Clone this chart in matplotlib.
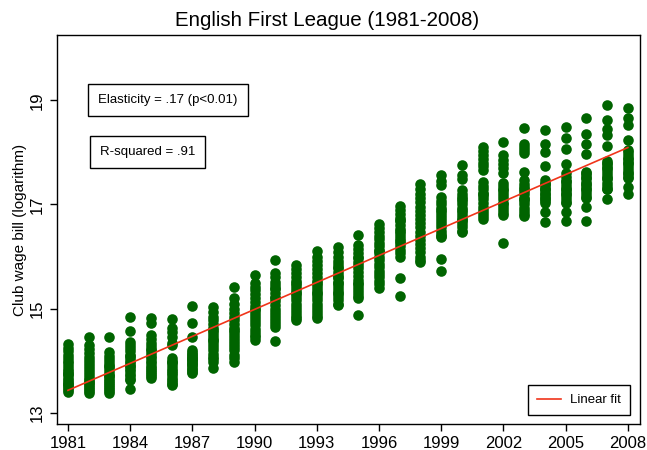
import matplotlib
matplotlib.use("Agg")
import matplotlib.pyplot as plt
import numpy as np

plt.rcParams['font.family'] = ['Liberation Sans', 'DejaVu Sans']

# season of each column
years = list(range(1981, 2009))

# log club wage bill, one list per season
wages = [
    [14.32, 14.25, 14.18, 14.12, 14.05, 14.0, 13.95, 13.9, 13.85, 13.8, 13.76, 13.72, 13.68, 13.64, 13.6, 13.56, 13.52, 13.48, 13.44, 13.4, 13.55, 13.75],
    [14.45, 14.3, 14.22, 14.15, 14.08, 14.02, 13.96, 13.9, 13.84, 13.78, 13.73, 13.68, 13.63, 13.58, 13.54, 13.5, 13.46, 13.42, 13.38, 13.6],
    [14.45, 14.17, 14.1, 14.04, 13.98, 13.92, 13.86, 13.8, 13.75, 13.7, 13.66, 13.62, 13.58, 13.54, 13.5, 13.46, 13.42, 13.38, 13.9, 13.7],
    [14.84, 14.57, 14.36, 14.3, 14.24, 14.18, 14.12, 14.06, 14.0, 13.95, 13.9, 13.85, 13.8, 13.75, 13.7, 13.66, 13.63, 13.46, 14.1, 13.9],
    [14.82, 14.72, 14.5, 14.42, 14.35, 14.28, 14.22, 14.15, 14.1, 14.05, 14.0, 13.95, 13.9, 13.86, 13.82, 13.78, 13.74, 13.7, 13.67, 14.2],
    [14.8, 14.63, 14.55, 14.45, 14.35, 14.3, 14.05, 14.0, 13.95, 13.9, 13.85, 13.8, 13.76, 13.72, 13.68, 13.64, 13.6, 13.56, 13.54, 13.98],
    [15.05, 14.72, 14.46, 14.2, 14.16, 14.12, 14.08, 14.04, 14.0, 13.96, 13.92, 13.88, 13.85, 13.82, 13.79, 13.77, 14.14, 14.06, 13.94, 14.02],
    [15.03, 14.93, 14.85, 14.78, 14.7, 14.63, 14.56, 14.5, 14.44, 14.38, 14.32, 14.26, 14.2, 14.14, 14.08, 14.03, 13.98, 13.86, 14.6, 14.4],
    [15.41, 15.2, 15.1, 15.0, 14.92, 14.85, 14.78, 14.7, 14.63, 14.56, 14.5, 14.44, 14.38, 14.32, 14.26, 14.2, 14.12, 14.05, 13.98, 14.6],
    [15.64, 15.5, 15.42, 15.35, 15.28, 15.2, 15.12, 15.05, 14.98, 14.92, 14.86, 14.8, 14.74, 14.68, 14.62, 14.56, 14.5, 14.45, 14.4, 15.0],
    [15.93, 15.68, 15.6, 15.52, 15.45, 15.38, 15.3, 15.22, 15.15, 15.08, 15.0, 14.94, 14.88, 14.82, 14.76, 14.7, 14.65, 14.38, 15.2, 15.4],
    [15.84, 15.76, 15.68, 15.6, 15.53, 15.46, 15.4, 15.34, 15.28, 15.22, 15.16, 15.1, 15.04, 14.98, 14.92, 14.86, 14.82, 14.78, 15.3, 15.5],
    [16.1, 16.0, 15.92, 15.84, 15.76, 15.68, 15.6, 15.53, 15.46, 15.4, 15.34, 15.28, 15.22, 15.16, 15.1, 15.04, 14.98, 14.92, 14.86, 14.82, 15.5, 15.3],
    [16.18, 16.08, 16.0, 15.92, 15.85, 15.78, 15.7, 15.64, 15.58, 15.52, 15.46, 15.4, 15.34, 15.28, 15.22, 15.16, 15.1, 15.07, 15.6, 15.8, 15.5, 15.3],
    [16.41, 16.22, 16.14, 16.06, 15.98, 15.9, 15.84, 15.78, 15.7, 15.62, 15.55, 15.48, 15.42, 15.36, 15.3, 15.25, 15.2, 14.88, 16.0, 15.5],
    [16.62, 16.55, 16.48, 16.4, 16.33, 16.26, 16.2, 16.13, 16.06, 16.0, 15.93, 15.86, 15.8, 15.73, 15.66, 15.6, 15.53, 15.47, 15.4, 16.1],
    [16.98, 16.9, 16.82, 16.75, 16.68, 16.6, 16.53, 16.46, 16.4, 16.33, 16.27, 16.2, 16.13, 16.06, 15.99, 15.59, 15.24, 16.7, 16.5, 16.3],
    [17.4, 17.3, 17.2, 17.12, 17.04, 16.96, 16.88, 16.8, 16.72, 16.64, 16.56, 16.48, 16.4, 16.32, 16.24, 16.16, 16.08, 16.0, 15.94, 15.89],
    [17.56, 17.45, 17.37, 17.14, 17.07, 17.0, 16.93, 16.86, 16.8, 16.74, 16.68, 16.62, 16.56, 16.5, 16.44, 16.4, 16.37, 15.95, 15.72, 16.9],
    [17.75, 17.56, 17.48, 17.27, 17.14, 17.07, 17.0, 16.93, 16.86, 16.8, 16.74, 16.68, 16.62, 16.56, 16.5, 16.47, 17.2, 16.9, 16.7, 17.1],
    [18.1, 18.02, 17.95, 17.88, 17.8, 17.73, 17.66, 17.43, 17.36, 17.29, 17.22, 17.16, 17.1, 17.03, 16.96, 16.9, 16.84, 16.78, 16.72, 17.2],
    [18.19, 17.94, 17.86, 17.78, 17.7, 17.6, 17.42, 17.35, 17.28, 17.22, 17.16, 17.1, 17.03, 16.96, 16.9, 16.84, 16.79, 16.26, 17.3, 17.0],
    [18.46, 18.17, 18.1, 18.04, 17.98, 17.62, 17.47, 17.4, 17.33, 17.26, 17.2, 17.13, 17.06, 17.0, 16.94, 16.88, 16.82, 16.77, 17.3, 17.1],
    [18.42, 18.17, 18.0, 17.73, 17.47, 17.42, 17.37, 17.32, 17.27, 17.22, 17.17, 17.12, 17.07, 17.02, 16.85, 16.66, 17.3, 17.2, 17.1, 17.4],
    [18.48, 18.27, 18.06, 17.77, 17.6, 17.53, 17.46, 17.4, 17.34, 17.28, 17.22, 17.16, 17.1, 17.05, 17.02, 16.85, 16.68, 17.3, 17.2, 17.45],
    [18.65, 18.36, 18.17, 17.96, 17.63, 17.56, 17.5, 17.44, 17.38, 17.32, 17.26, 17.2, 17.15, 17.12, 16.95, 16.68, 17.4, 17.3, 17.5, 17.6],
    [18.9, 18.63, 18.44, 18.33, 18.13, 17.84, 17.78, 17.72, 17.66, 17.6, 17.54, 17.48, 17.42, 17.36, 17.3, 17.29, 17.1, 17.7, 17.5, 17.8],
    [18.86, 18.65, 18.52, 18.23, 18.0, 17.94, 17.88, 17.82, 17.76, 17.7, 17.64, 17.58, 17.52, 17.5, 17.33, 17.21, 17.9, 17.8, 17.6, 18.05],
]

xticks = list(range(1981, 2009, 3))
yticks = [13, 15, 17, 19]

x = np.concatenate([[yr] * len(w) for yr, w in zip(years, wages)])
y = np.concatenate(wages)

# linear fit
b, a = np.polyfit(x, y, 1)
xfit = np.array([years[0], years[-1]])

fig = plt.figure(figsize=(6.47, 4.5), dpi=100)
ax = fig.add_axes([0.088, 0.058, 0.901, 0.864])

ax.scatter(x, y, s=58, color='#006400', linewidths=0, zorder=2)
ax.plot(xfit, a + b * xfit, color='#f0341a', lw=1.2, zorder=3, label='Linear fit')

ax.set_xlim(1980.47, 2008.58)
ax.set_ylim(12.79, 20.25)
ax.set_xticks(xticks)
ax.set_yticks(yticks)
ax.tick_params(axis='both', direction='out', length=5, width=1, labelsize=12)
for lab in ax.get_yticklabels():
    lab.set_rotation(90)
    lab.set_va('center')
for s in ax.spines.values():
    s.set_linewidth(1)

ax.set_ylabel('Club wage bill (logarithm)', fontsize=11, labelpad=2)
# title is centred on the whole figure, not the plot area
fig.text(0.505, 0.955, 'English First League (1981-2008)', fontsize=14.8,
         ha='center', va='center')

ax.text(0.071, 0.833, 'Elasticity = .17 (p<0.01)', transform=ax.transAxes,
        fontsize=9.5, va='center', ha='left',
        bbox=dict(boxstyle='square,pad=0.75', fc='white', ec='black', lw=1))
ax.text(0.074, 0.70, 'R-squared = .91', transform=ax.transAxes,
        fontsize=9.5, va='center', ha='left',
        bbox=dict(boxstyle='square,pad=0.75', fc='white', ec='black', lw=1))

leg = ax.legend(loc='lower right', fontsize=9.5, fancybox=False, framealpha=1,
                edgecolor='black', handlelength=1.8, borderpad=0.7,
                handletextpad=0.7, bbox_to_anchor=(0.995, 0.005))
leg.get_frame().set_linewidth(1)

fig.savefig('out.png', dpi=100)
